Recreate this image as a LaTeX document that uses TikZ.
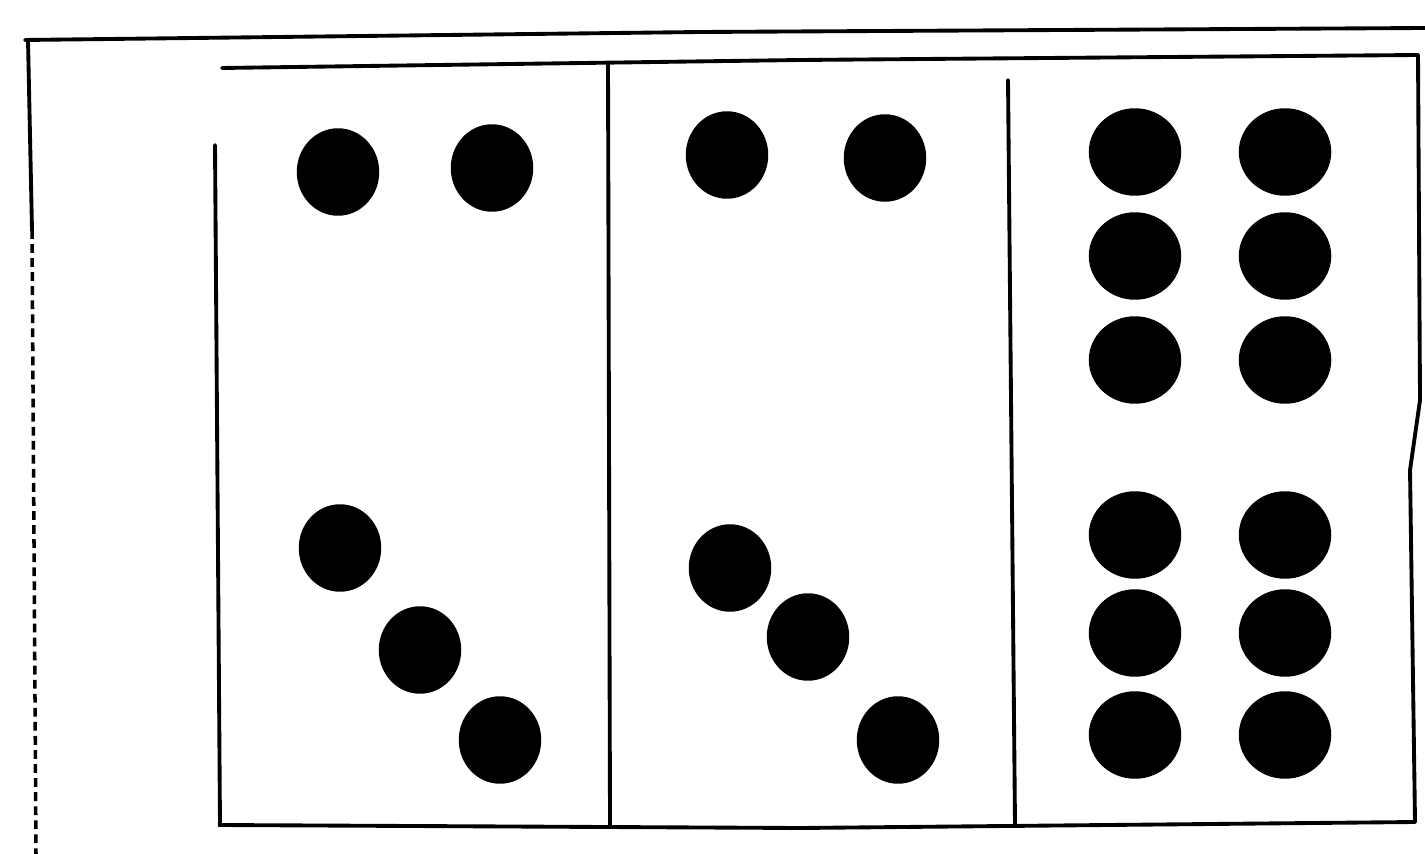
\documentclass[tikz,border=0pt]{standalone}
\usepackage{tikz}
\usetikzlibrary{shapes.geometric}

\begin{document}
\begin{tikzpicture}[x=0.02cm,y=-0.02cm,
    pen/.style={line width=2.2pt,line cap=round},
    dot/.style={ellipse,fill=black,minimum width=1.65cm,minimum height=1.75cm,inner sep=0pt},
    bigdot/.style={dot,minimum width=1.85cm,minimum height=1.75cm}]
    \useasboundingbox (0,0) rectangle (1425,854);
    % outer frame
    \draw[pen] (25,40) -- (700,32) -- (1425,28);
    \draw[pen] (28,40) -- (32,230);
    \draw[line width=2pt,dash pattern=on 5pt off 3pt] (32,230) -- (36,854);
    % box with three panels
    \draw[pen] (222,68) -- (800,60) -- (1418,55);
    \draw[pen] (215,145) -- (220,825) -- (800,828) -- (1415,822);
    \draw[pen] (1418,55) -- (1420,400) -- (1410,470) -- (1415,822);
    \draw[pen] (608,65) -- (610,825);
    \draw[pen] (1008,80) -- (1015,825);
    % dots
    \foreach \x/\y [count=\i] in {338/172, 492/168, 340/548, 420/650, 500/740,
        727/155, 885/158, 730/568, 808/637, 898/740}
        \node[dot] (d\i) at (\x,\y) {};
    \foreach \y [count=\j] in {152,256,360,535,633,735} {
        \node[bigdot] (l\j) at (1135,\y) {};
        \node[bigdot] (r\j) at (1285,\y) {};
    }
\end{tikzpicture}
\end{document}
